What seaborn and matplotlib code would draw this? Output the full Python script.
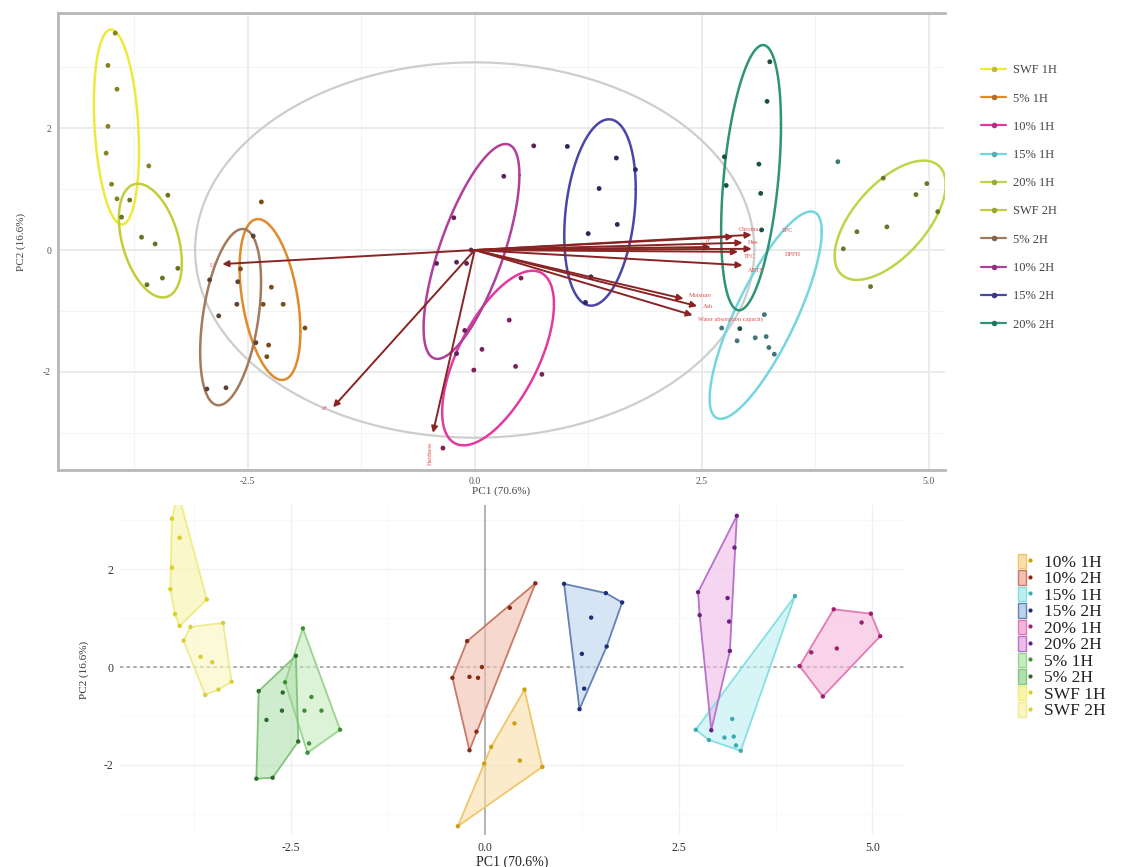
import numpy as np
import pandas as pd
import matplotlib
matplotlib.use("Agg")
import matplotlib.pyplot as plt
import matplotlib.colors as mcolors
from matplotlib.lines import Line2D
from matplotlib.patches import Patch
from matplotlib.legend_handler import HandlerTuple
import seaborn as sns

# ---------------- data: PC scores per sample group ----------------
swf_1h_pc1 = [-3.96, -4.04, -3.94, -4.04, -4.06, -3.59, -4.00, -3.94]
swf_1h_pc2 = [3.56, 3.03, 2.64, 2.03, 1.59, 1.38, 1.08, 0.84]
swf_2h_pc1 = [-3.80, -3.89, -3.38, -3.67, -3.52, -3.27, -3.44, -3.61]
swf_2h_pc2 = [0.82, 0.54, 0.90, 0.21, 0.10, -0.30, -0.46, -0.57]
p5_1h_pc1 = [-2.35, -2.24, -2.33, -2.11, -1.87, -2.27, -2.29, -2.58]
p5_1h_pc2 = [0.79, -0.61, -0.89, -0.89, -1.28, -1.56, -1.75, -0.31]
p5_2h_pc1 = [-2.92, -2.82, -2.95, -2.44, -2.62, -2.61, -2.74, -2.41]
p5_2h_pc2 = [-0.49, -1.08, -2.28, 0.23, -0.89, -0.52, -2.26, -1.52]
p10_1h_pc1 = [0.51, 0.38, 0.08, -0.01, 0.45, 0.74, -0.35]
p10_1h_pc2 = [-0.46, -1.15, -1.63, -1.97, -1.91, -2.04, -3.25]
p10_2h_pc1 = [0.65, 0.32, -0.23, -0.42, -0.20, -0.09, -0.04, -0.11, -0.20]
p10_2h_pc2 = [1.71, 1.21, 0.53, -0.22, -0.20, -0.22, 0.00, -1.32, -1.70]
p15_1h_pc1 = [4.00, 3.19, 2.72, 2.89, 3.09, 3.21, 3.30, 3.24]
p15_1h_pc2 = [1.45, -1.06, -1.28, -1.49, -1.44, -1.42, -1.71, -1.60]
p15_2h_pc1 = [1.02, 1.56, 1.77, 1.37, 1.57, 1.25, 1.28, 1.22]
p15_2h_pc2 = [1.70, 1.51, 1.32, 1.01, 0.42, 0.27, -0.44, -0.86]
p20_1h_pc1 = [4.50, 4.98, 4.86, 5.10, 4.54, 4.21, 4.06, 4.36]
p20_1h_pc2 = [1.18, 1.09, 0.91, 0.63, 0.38, 0.30, 0.02, -0.60]
p20_2h_pc1 = [3.25, 3.22, 2.75, 2.77, 3.13, 3.15, 3.16, 2.92]
p20_2h_pc2 = [3.09, 2.44, 1.53, 1.06, 1.41, 0.93, 0.33, -1.29]

groups_top = ["SWF 1H", "5% 1H", "10% 1H", "15% 1H", "20% 1H",
              "SWF 2H", "5% 2H", "10% 2H", "15% 2H", "20% 2H"]
groups_bottom = ["10% 1H", "10% 2H", "15% 1H", "15% 2H", "20% 1H",
                 "20% 2H", "5% 1H", "5% 2H", "SWF 1H", "SWF 2H"]

# variable loadings (biplot arrows)
var_names = ["L*", "a*", "Hardness", "b*", "Chroma", "Hue", "TPC", "TFC",
             "DPPH", "ABTS", "Moisture", "Ash", "Water absorption capacity"]
load_pc1 = [-2.78, -1.56, -0.46, 2.60, 2.85, 2.95, 3.05, 2.90, 3.05, 2.95, 2.30, 2.45, 2.40]
load_pc2 = [-0.23, -2.58, -3.00, 0.05, 0.22, 0.12, 0.25, -0.03, 0.02, -0.25, -0.80, -0.92, -1.07]
circle_radius = 3.08

x_label = "PC1 (70.6%)"
y_label = "PC2 (16.6%)"
x_ticks = [-2.5, 0.0, 2.5, 5.0]
x_tick_labels = ["-2.5", "0.0", "2.5", "5.0"]
y_ticks = [-2, 0, 2]
y_tick_labels = ["-2", "0", "2"]
ellipse_level = 0.68

# ---------------- build frame ----------------
score_lists = {
    "SWF 1H": (swf_1h_pc1, swf_1h_pc2), "SWF 2H": (swf_2h_pc1, swf_2h_pc2),
    "5% 1H": (p5_1h_pc1, p5_1h_pc2), "5% 2H": (p5_2h_pc1, p5_2h_pc2),
    "10% 1H": (p10_1h_pc1, p10_1h_pc2), "10% 2H": (p10_2h_pc1, p10_2h_pc2),
    "15% 1H": (p15_1h_pc1, p15_1h_pc2), "15% 2H": (p15_2h_pc1, p15_2h_pc2),
    "20% 1H": (p20_1h_pc1, p20_1h_pc2), "20% 2H": (p20_2h_pc1, p20_2h_pc2),
}
rows = []
for g, (xs, ys) in score_lists.items():
    for a, b in zip(xs, ys):
        rows.append({"group": g, "PC1": a, "PC2": b})
df = pd.DataFrame(rows)

# ---------------- styling ----------------
sns.set_style("white")
plt.rcParams["font.family"] = ["Liberation Serif", "DejaVu Serif"]

top_colors = {
    "SWF 1H": "#EEEA3C", "5% 1H": "#E08A2C", "10% 1H": "#E23A9E", "15% 1H": "#74D6DE",
    "20% 1H": "#BCD64A", "SWF 2H": "#C4CE3A", "5% 2H": "#A47A5C", "10% 2H": "#B0409C",
    "15% 2H": "#4A46A8", "20% 2H": "#2E9478",
}
bottom_edge = {
    "10% 1H": "#F0C66A", "10% 2H": "#C87A66", "15% 1H": "#86E0E2", "15% 2H": "#6482B4",
    "20% 1H": "#E27AB6", "20% 2H": "#B672CC", "5% 1H": "#9AD48E", "5% 2H": "#82C47C",
    "SWF 1H": "#F0EC86", "SWF 2H": "#EEEA96",
}
bottom_fill = {
    "10% 1H": "#FADFA8", "10% 2H": "#F2BFB0", "15% 1H": "#BDEFF2", "15% 2H": "#BCD2EE",
    "20% 1H": "#F4B6DC", "20% 2H": "#F0BAE8", "5% 1H": "#C6EBBE", "5% 2H": "#B2E0AE",
    "SWF 1H": "#F8F4A8", "SWF 2H": "#FAF6BC",
}
bottom_point = {
    "10% 1H": "#C8A010", "10% 2H": "#8A2A14", "15% 1H": "#3AAAB4", "15% 2H": "#1E2E78",
    "20% 1H": "#A0206E", "20% 2H": "#6A1E86", "5% 1H": "#3E8E38", "5% 2H": "#2C6A2C",
    "SWF 1H": "#D8D020", "SWF 2H": "#D6CE3A",
}

# label nudges for the crowded arrow tips (in points)
label_nudge = {
    "b*": (-4, 5), "Chroma": (4, 5), "Hue": (4, 0), "TPC": (22, 3), "TFC": (4, -3),
    "DPPH": (24, -4), "ABTS": (4, -4), "Moisture": (4, 2), "Ash": (4, 0),
    "Water absorption capacity": (4, -3),
}


def darken(c, f=0.45):
    r, g, b = mcolors.to_rgb(c)
    return (r * f, g * f, b * f)


def conf_ellipse(xs, ys, level, n_seg=120):
    xs = np.asarray(xs, float)
    ys = np.asarray(ys, float)
    n = len(xs)
    cov = np.cov(xs, ys)
    center = np.array([xs.mean(), ys.mean()])
    dfd = n - 1
    fq = dfd / 2.0 * ((1 - level) ** (-2.0 / dfd) - 1)
    radius = np.sqrt(2 * fq)
    t = np.linspace(0, 2 * np.pi, n_seg)
    circ = np.column_stack([np.cos(t), np.sin(t)])
    L = np.linalg.cholesky(cov)
    pts = center + radius * circ @ L.T
    return pts[:, 0], pts[:, 1]


def convex_hull(xs, ys):
    pts = sorted(set(zip(xs, ys)))
    def cross(o, a, b):
        return (a[0] - o[0]) * (b[1] - o[1]) - (a[1] - o[1]) * (b[0] - o[0])
    lower = []
    for p in pts:
        while len(lower) >= 2 and cross(lower[-2], lower[-1], p) <= 0:
            lower.pop()
        lower.append(p)
    upper = []
    for p in reversed(pts):
        while len(upper) >= 2 and cross(upper[-2], upper[-1], p) <= 0:
            upper.pop()
        upper.append(p)
    h = np.array(lower[:-1] + upper[:-1])
    return h[:, 0], h[:, 1]


W, H = 1127, 867
fig = plt.figure(figsize=(W / 100, H / 100), dpi=100)
fig.patch.set_facecolor("white")

# ================= top panel: biplot =================
ax1 = fig.add_axes([58 / W, 1 - 470 / H, 887 / W, 457 / H])
ax1.set_xlim(-4.59, 5.18)
ax1.set_ylim(-3.61, 3.89)
ax1.set_facecolor("white")
ax1.set_xticks(x_ticks)
ax1.set_xticklabels(x_tick_labels)
ax1.set_yticks(y_ticks)
ax1.set_yticklabels(y_tick_labels)
ax1.set_xticks([-3.75, -1.25, 1.25, 3.75], minor=True)
ax1.set_yticks([-3, -1, 1, 3], minor=True)
ax1.grid(True, which="major", color="#e8e8e8", lw=1.2)
ax1.grid(True, which="minor", color="#f3f3f3", lw=0.7)
ax1.set_axisbelow(True)
for side in ["left", "top", "bottom"]:
    ax1.spines[side].set_color("#b8b8b8")
    ax1.spines[side].set_linewidth(2.0)
ax1.spines["right"].set_visible(False)
ax1.tick_params(axis="both", which="major", labelsize=7, colors="#777777",
                length=3, width=0.8, labelcolor="#555555", pad=2)
ax1.tick_params(axis="both", which="minor", length=0)

# correlation circle
t = np.linspace(0, 2 * np.pi, 300)
ax1.plot(circle_radius * np.cos(t), circle_radius * np.sin(t), color="#cdcdcd", lw=1.6, zorder=1)

# ellipses
for g in groups_top:
    xs, ys = score_lists[g]
    ex, ey = conf_ellipse(xs, ys, ellipse_level)
    ax1.plot(ex, ey, color=top_colors[g], lw=1.8, zorder=2)

# points
sns.scatterplot(data=df, x="PC1", y="PC2", hue="group", hue_order=groups_top,
                palette={g: darken(top_colors[g], 0.55) for g in groups_top},
                s=12, linewidth=0, legend=False, ax=ax1, zorder=3)
ax1.set_xlabel(x_label, fontsize=8, color="#444444", labelpad=0)
ax1.set_ylabel(y_label, fontsize=8, color="#444444", labelpad=12)

# arrows
for name, lx, ly in zip(var_names, load_pc1, load_pc2):
    ax1.annotate("", xy=(lx, ly), xytext=(0, 0),
                 arrowprops=dict(arrowstyle="-|>", color="#8a2424", lw=1.4,
                                 mutation_scale=9, shrinkA=0, shrinkB=0),
                 zorder=4)
    if name == "Hardness":
        ax1.annotate(name, xy=(lx, ly), xytext=(-2, -6), textcoords="offset points",
                     color="#e05050", fontsize=4.5, rotation=90, ha="center", va="top",
                     zorder=5)
    elif lx < 0:
        ax1.annotate(name, xy=(lx, ly), xytext=(-4, -1), textcoords="offset points",
                     color="#e05050", fontsize=4.5, ha="right", va="center", zorder=5)
    else:
        dx, dy = label_nudge.get(name, (4, 0))
        ax1.annotate(name, xy=(lx, ly), xytext=(dx, dy), textcoords="offset points",
                     color="#e05050", fontsize=4.5, ha="left", va="center", zorder=5)

# top legend
top_handles = [Line2D([0], [0], color=top_colors[g], lw=1.6, marker="o", markersize=4,
                      markerfacecolor=darken(top_colors[g], 0.8), markeredgewidth=0)
               for g in groups_top]
fig.legend(top_handles, groups_top, loc="upper left",
           bbox_to_anchor=(970 / W, 1 - 53 / H), frameon=False, fontsize=9,
           labelspacing=1.3, handlelength=2.0, handletextpad=0.55,
           labelcolor="#444444")

# ================= bottom panel: convex hulls =================
ax2 = fig.add_axes([120 / W, 1 - 835 / H, 785 / W, 330 / H])
ax2.set_xlim(-4.71, 5.42)
ax2.set_ylim(-3.43, 3.31)
ax2.set_facecolor("white")
for s in ax2.spines.values():
    s.set_visible(False)
ax2.set_xticks(x_ticks)
ax2.set_xticklabels(x_tick_labels)
ax2.set_yticks(y_ticks)
ax2.set_yticklabels(y_tick_labels)
ax2.set_xticks([-3.75, -1.25, 1.25, 3.75], minor=True)
ax2.set_yticks([-3, -1, 1, 3], minor=True)
ax2.grid(True, which="major", color="#f0f0f0", lw=1.0)
ax2.grid(True, which="minor", color="#f7f7f7", lw=0.6)
ax2.set_axisbelow(True)
ax2.tick_params(axis="both", which="both", length=0, labelsize=8.5,
                labelcolor="#333333", pad=5)
ax2.axvline(0, color="#a8a8a8", lw=1.2, zorder=1)
ax2.axhline(0, color="#a0a0a0", lw=1.2, ls=(0, (2, 2)), zorder=1)

for g in groups_bottom:
    xs, ys = score_lists[g]
    hx, hy = convex_hull(xs, ys)
    ax2.fill(hx, hy, facecolor=bottom_fill[g], edgecolor="none", alpha=0.6, zorder=2)
    ax2.fill(hx, hy, facecolor="none", edgecolor=bottom_edge[g], lw=1.3, zorder=3)

sns.scatterplot(data=df, x="PC1", y="PC2", hue="group", hue_order=groups_bottom,
                palette=bottom_point, s=10, linewidth=0, legend=False, ax=ax2, zorder=4)
ax2.set_xlabel(x_label, fontsize=10, color="#222222", labelpad=1)
ax2.set_ylabel(y_label, fontsize=8, color="#333333", labelpad=10)

bottom_handles = [(Patch(facecolor=bottom_fill[g], edgecolor=bottom_edge[g], lw=1.0),
                   Line2D([0], [0], color="none", marker="o", markersize=3,
                          markerfacecolor=bottom_point[g], markeredgewidth=0))
                  for g in groups_bottom]
fig.legend(bottom_handles, groups_bottom, loc="upper left",
           bbox_to_anchor=(1002 / W, 1 - 538 / H), frameon=False, fontsize=12.5,
           labelspacing=-0.04, handlelength=0.95, handleheight=0.9, handletextpad=0.55,
           labelcolor="#222222", handler_map={tuple: HandlerTuple(ndivide=None, pad=0)})

fig.savefig("out.png", dpi=100, facecolor="white")
